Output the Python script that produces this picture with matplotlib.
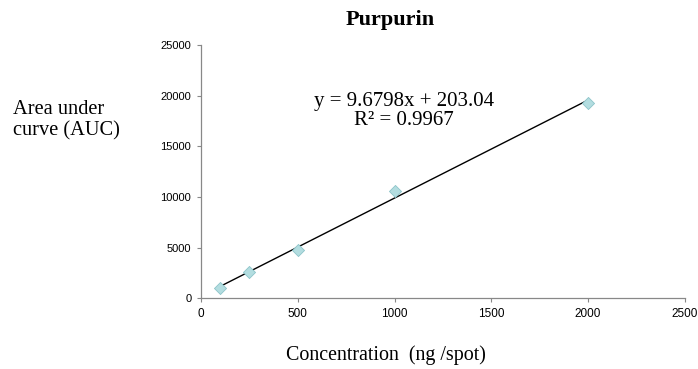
import numpy as np
import matplotlib.pyplot as plt

# calibration data
conc = np.array([100, 250, 500, 1000, 2000])      # ng/spot
auc = np.array([980, 2580, 4800, 10550, 19250])   # area under curve
slope, intercept = 9.6798, 203.04
r2 = 0.9967

xticks = [0, 500, 1000, 1500, 2000, 2500]
yticks = [0, 5000, 10000, 15000, 20000, 25000]

fig = plt.figure(figsize=(6.98, 3.69), dpi=100)
ax = fig.add_axes([0.288, 0.192, 0.693, 0.686])

# trendline over data range
xl = np.array([conc.min(), conc.max()])
ax.plot(xl, slope*xl + intercept, color='black', lw=1.0, zorder=2)
ax.scatter(conc, auc, marker='D', s=38, color='#b3dde0', edgecolor='#8cc4c9',
           linewidth=0.6, zorder=3)

ax.set_xlim(0, 2500)
ax.set_ylim(0, 25000)
ax.set_xticks(xticks)
ax.set_yticks(yticks)
for lbl in ax.get_xticklabels():
    lbl.set_fontfamily('Liberation Sans')
    lbl.set_fontsize(8.5)
for lbl in ax.get_yticklabels():
    lbl.set_fontfamily('Liberation Sans')
    lbl.set_fontsize(8)
ax.tick_params(direction='out', length=3, color='#888888', width=0.8, pad=4)
ax.spines['top'].set_visible(False)
ax.spines['right'].set_visible(False)
for s in ['left', 'bottom']:
    ax.spines[s].set_color('#888888')
    ax.spines[s].set_linewidth(0.9)

ax.text(0.419, 0.741, 'y = 9.6798x + 203.04\nR² = 0.9967', transform=ax.transAxes,
        ha='center', va='center', fontsize=15, family='Liberation Serif',
        linespacing=1.0)

fig.text(0.559, 0.946, 'Purpurin', ha='center', va='center', fontsize=16,
         fontweight='bold', family='Liberation Serif')
fig.text(0.019, 0.675, 'Area under\ncurve (AUC)', ha='left', va='center',
         fontsize=14.7, family='Liberation Serif', linespacing=1.15)
fig.text(0.553, 0.038, 'Concentration  (ng /spot)', ha='center', va='center',
         fontsize=14.4, family='Liberation Serif')

plt.savefig('out.png', dpi=100)
